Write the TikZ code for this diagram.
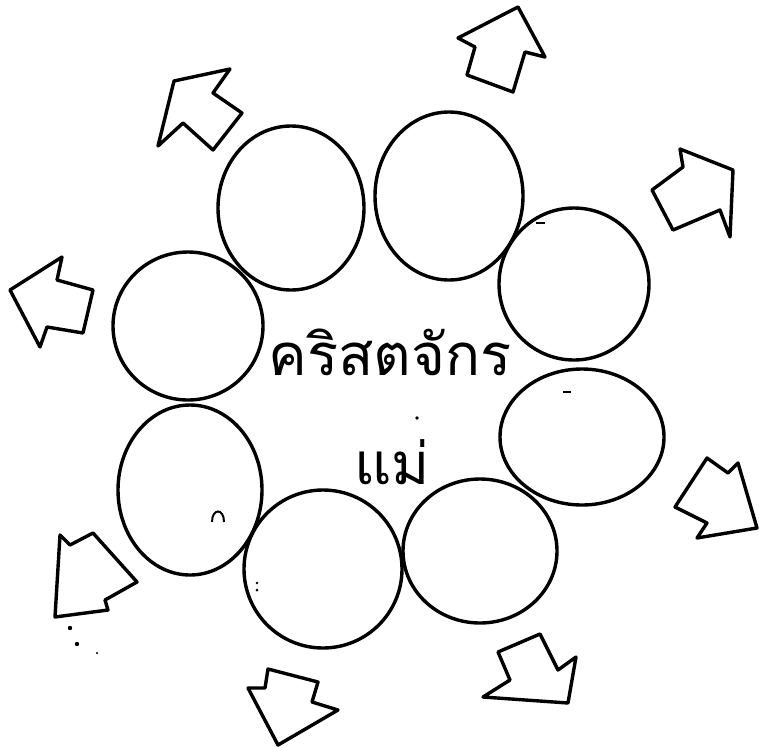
\documentclass[tikz,border=0pt]{standalone}
\usepackage{fontspec}
\newfontfamily\thaifont[Script=Thai]{Loma}
\begin{document}
\begin{tikzpicture}[x=1pt,y=-1pt,
  ring/.style={draw=black,line width=3.4pt},
  blockarrow/.style={draw=black,line width=3.4pt,line join=round,fill=white},
  speck/.style={fill=black,draw=none}]
\useasboundingbox (0,0) rectangle (759,747);
% circles
\draw[ring] (291,208) ellipse [x radius=73,y radius=82];
\draw[ring] (449,196) ellipse [x radius=74,y radius=84];
\draw[ring] (574,284) ellipse [x radius=75,y radius=76];
\draw[ring] (188,326) ellipse [x radius=75,y radius=74];
\draw[ring] (582,437) ellipse [x radius=82,y radius=68];
\draw[ring] (190,490) ellipse [x radius=72,y radius=85];
\draw[ring] (323,569) ellipse [x radius=79,y radius=79];
\draw[ring] (480,551) ellipse [x radius=77,y radius=72];
% arrows
\draw[blockarrow] (518,7)--(545,57)--(525,52)--(513,92)--(467,75)--(475,47)--(458,38)--cycle;
\draw[blockarrow] (174,81)--(230,69)--(213,93)--(242,113)--(213,150)--(183,123)--(158,146)--cycle;
\draw[blockarrow] (733,170)--(730,237)--(720,210)--(673,230)--(652,190)--(683,167)--(680,149)--cycle;
\draw[blockarrow] (10,290)--(62,257)--(57,280)--(93,290)--(83,333)--(47,327)--(40,347)--cycle;
\draw[blockarrow] (757,528)--(697,538)--(707,523)--(675,507)--(707,458)--(728,473)--(738,463)--cycle;
\draw[blockarrow] (55,617)--(60,535)--(70,545)--(93,533)--(137,582)--(105,600)--(108,610)--cycle;
\draw[blockarrow] (278,745)--(248,688)--(265,688)--(268,669)--(318,682)--(312,702)--(338,710)--cycle;
\draw[blockarrow] (568,703)--(483,697)--(510,680)--(498,652)--(540,634)--(558,670)--(576,657)--cycle;
% text
\node[font=\thaifont\fontsize{58}{60}\selectfont,inner sep=0pt] (title) at (390,352) {คริสตจักร};
\node[font=\thaifont\fontsize{58}{60}\selectfont,inner sep=0pt] (mother) at (392,462) {แม่};
% specks
\fill[speck] (70,628) circle (2.2);
\fill[speck] (77,644) circle (2.2);
\fill[speck] (97,653) circle (1.2);
\fill[speck] (417,418) circle (1.8);
\fill[speck] (257,583) circle (1.3);
\fill[speck] (257,590) circle (1.5);
\draw[line width=1.5pt] (536,223)--(545,223);
\draw[line width=1.5pt] (563,392)--(571,392);
\draw[line width=2pt] (212,522) .. controls (212,508) and (224,508) .. (224,522);
\end{tikzpicture}
\end{document}
